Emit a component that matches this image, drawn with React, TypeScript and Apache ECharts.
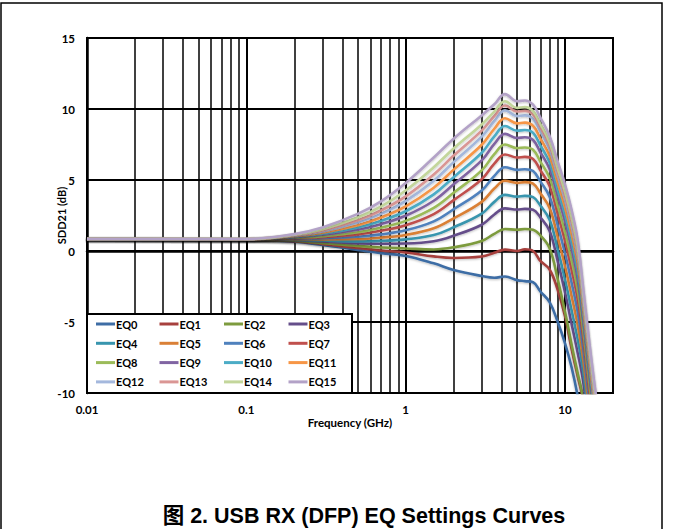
import React, { useEffect, useRef } from "react";
import * as echarts from "echarts";

// Frequency points (GHz)
const FREQ = [0.01, 0.1, 0.2, 0.3, 0.5, 0.7, 1, 1.5, 2, 3, 3.6, 4.2, 5.0, 5.6, 6.3, 7, 8, 9, 10, 11, 12, 13, 14, 15, 16];

const SERIES_NAMES = ["EQ0", "EQ1", "EQ2", "EQ3", "EQ4", "EQ5", "EQ6", "EQ7", "EQ8", "EQ9", "EQ10", "EQ11", "EQ12", "EQ13", "EQ14", "EQ15"];

// SDD21 (dB) per EQ setting
const EQ0 = [0.85, 0.80, 0.65, 0.42, 0.08, -0.15, -0.35, -0.87, -1.34, -1.76, -1.88, -1.80, -2.05, -2.12, -2.20, -2.85, -3.6, -5.0, -6.5, -8.2, -10.2, -12.5, -15, -17, -19];
const EQ1 = [0.85, 0.80, 0.69, 0.50, 0.21, 0.04, -0.10, -0.38, -0.49, -0.39, -0.13, 0.10, 0.00, 0.12, 0.00, -0.70, -1.30, -2.75, -4.60, -6.90, -8.80, -10.5, -13, -15.5, -18];
const EQ2 = [0.85, 0.80, 0.72, 0.57, 0.36, 0.25, 0.18, 0.11, 0.26, 0.71, 1.21, 1.55, 1.50, 1.55, 1.50, 1.10, 0.20, -2.00, -4.30, -6.60, -8.60, -10.4, -13.5, -16.5, -19];
const EQ3 = [0.85, 0.80, 0.77, 0.67, 0.54, 0.51, 0.53, 0.69, 1.08, 1.85, 2.57, 3.00, 2.92, 2.97, 2.90, 2.37, 1.41, -0.73, -2.92, -5.15, -7.16, -9.21, -12.32, -15.29, -17.78];
const EQ4 = [0.85, 0.81, 0.80, 0.74, 0.68, 0.71, 0.82, 1.12, 1.67, 2.63, 3.46, 3.95, 3.83, 3.88, 3.79, 3.20, 2.20, 0.10, -2.02, -4.20, -6.22, -8.43, -11.55, -14.50, -16.98];
const EQ5 = [0.85, 0.81, 0.83, 0.82, 0.84, 0.94, 1.13, 1.60, 2.30, 3.46, 4.40, 4.95, 4.80, 4.85, 4.74, 4.07, 3.03, 0.97, -1.08, -3.20, -5.23, -7.61, -10.74, -13.67, -16.14];
const EQ6 = [0.85, 0.81, 0.87, 0.90, 1.00, 1.17, 1.46, 2.09, 2.94, 4.26, 5.29, 5.90, 5.71, 5.76, 5.63, 4.90, 3.82, 1.80, -0.18, -2.25, -4.29, -6.83, -9.97, -12.88, -15.34];
const EQ7 = [0.85, 0.82, 0.91, 0.98, 1.17, 1.42, 1.81, 2.60, 3.58, 5.05, 6.15, 6.80, 6.58, 6.63, 6.48, 5.69, 4.57, 2.59, 0.68, -1.35, -3.40, -6.09, -9.24, -12.13, -14.58];
const EQ8 = [0.85, 0.82, 0.94, 1.05, 1.32, 1.64, 2.12, 3.04, 4.10, 5.68, 6.82, 7.50, 7.24, 7.29, 7.13, 6.30, 5.15, 3.20, 1.33, -0.65, -2.72, -5.52, -8.68, -11.55, -13.99];
const EQ9 = [0.85, 0.82, 0.97, 1.14, 1.50, 1.89, 2.48, 3.54, 4.70, 6.38, 7.54, 8.25, 7.96, 8.01, 7.82, 6.95, 5.77, 3.85, 2.05, 0.10, -1.97, -4.90, -8.07, -10.93, -13.36];
const EQ10 = [0.85, 0.83, 1.01, 1.21, 1.66, 2.12, 2.80, 3.99, 5.20, 6.92, 8.07, 8.80, 8.47, 8.52, 8.32, 7.43, 6.23, 4.33, 2.57, 0.65, -1.43, -4.45, -7.62, -10.47, -12.90];
const EQ11 = [0.85, 0.83, 1.04, 1.29, 1.82, 2.36, 3.15, 4.46, 5.73, 7.48, 8.61, 9.35, 8.99, 9.04, 8.81, 7.91, 6.69, 4.81, 3.09, 1.20, -0.88, -4.00, -7.18, -10.01, -12.43];
const EQ12 = [0.85, 0.84, 1.08, 1.37, 2.00, 2.61, 3.51, 4.94, 6.26, 8.05, 9.14, 9.90, 9.50, 9.55, 9.31, 8.40, 7.14, 5.30, 3.61, 1.75, -0.34, -3.54, -6.73, -9.56, -11.97];
const EQ13 = [0.85, 0.84, 1.11, 1.45, 2.16, 2.85, 3.85, 5.39, 6.72, 8.48, 9.50, 10.25, 9.82, 9.87, 9.61, 8.70, 7.44, 5.60, 3.94, 2.10, 0.01, -3.26, -6.45, -9.26, -11.67];
const EQ14 = [0.85, 0.84, 1.14, 1.54, 2.36, 3.13, 4.26, 5.90, 7.22, 8.91, 9.82, 10.55, 10.08, 10.13, 9.85, 8.96, 7.68, 5.86, 4.22, 2.40, 0.30, -3.01, -6.21, -9.02, -11.42];
const EQ15 = [0.85, 0.85, 1.19, 1.65, 2.61, 3.50, 4.79, 6.58, 7.91, 9.55, 10.33, 11.05, 10.55, 10.60, 10.30, 9.40, 8.10, 6.30, 4.70, 2.90, 0.80, -2.60, -5.80, -8.60, -11.0];

const VALUES = [EQ0, EQ1, EQ2, EQ3, EQ4, EQ5, EQ6, EQ7, EQ8, EQ9, EQ10, EQ11, EQ12, EQ13, EQ14, EQ15];

const COLORS = [
  "#3E6DA5", "#A7403D", "#7D9B3E", "#654E8A", "#3895AE", "#DA8036",
  "#4F81BD", "#C0504D", "#9BBB59", "#8064A2", "#4BACC6", "#F79646",
  "#A4B8DD", "#DA9694", "#C3D69B", "#B3A2C7",
];

// Minor vertical grid lines (2..9 within each decade)
const X_MINOR = [0.02, 0.03, 0.04, 0.05, 0.06, 0.07, 0.08, 0.09, 0.2, 0.3, 0.4, 0.5, 0.6, 0.7, 0.8, 0.9, 2, 3, 4, 5, 6, 7, 8, 9];

const X_MIN = 0.01;
const X_MAX = 20;
const Y_MIN = -10;
const Y_MAX = 15;
const Y_STEP = 5;

const TITLE = "图 2. USB RX (DFP) EQ Settings Curves";
const X_NAME = "Frequency (GHz)";
const Y_NAME = "SDD21 (dB)";

const LEGEND_LEFT = [96, 159.5, 224, 288.5];

export default function App() {
  const ref = useRef<HTMLDivElement>(null);
  useEffect(() => {
    document.body.style.margin = "0";
    const chart = echarts.init(ref.current as HTMLDivElement, null, { renderer: "svg" });
    const font = "Lato, 'Open Sans', sans-serif";

    const series: any[] = SERIES_NAMES.map((name, i) => ({
      name,
      type: "line",
      data: FREQ.map((f, j) => [f, VALUES[i][j]]),
      showSymbol: false,
      symbol: "none",
      smooth: 0.4,
      clip: true,
      color: COLORS[i],
      lineStyle: { width: 2.6, color: COLORS[i], shadowBlur: 2, shadowColor: "rgba(0,0,0,0.25)", shadowOffsetY: 1 },
      z: 3,
    }));

    series.unshift({
      name: "minorGrid",
      type: "line",
      data: [],
      silent: true,
      z: 1,
      markLine: {
        silent: true,
        z: 1,
        symbol: ["none", "none"],
        label: { show: false },
        lineStyle: { color: "#000", width: 1.5, type: "solid" },
        data: X_MINOR.map((v) => ({ xAxis: v })),
      },
    });

    const legends = LEGEND_LEFT.map((left, c) => ({
      orient: "vertical",
      left,
      top: 317,
      padding: 0,
      itemGap: 5.3,
      itemWidth: 19,
      itemHeight: 3,
      icon: "rect",
      z: 12,
      data: [0, 1, 2, 3].map((r) => SERIES_NAMES[c + r * 4]),
      textStyle: { fontFamily: font, fontWeight: "bold", fontSize: 11, color: "#000", lineHeight: 14, padding: [0, 0, 0, -4] },
    }));

    chart.setOption({
      animation: false,
      backgroundColor: "#fff",
      grid: { left: 87, top: 38, width: 526, height: 355, show: true, borderColor: "#000", borderWidth: 2, backgroundColor: "transparent" },
      xAxis: {
        type: "log",
        logBase: 10,
        min: X_MIN,
        max: X_MAX,
        name: X_NAME,
        nameLocation: "middle",
        nameGap: 23,
        nameMoveOverlap: false,
        nameTextStyle: { fontFamily: font, fontWeight: "bold", fontSize: 11.5, color: "#000" },
        axisLine: { show: true, lineStyle: { color: "#000", width: 2.5 } },
        axisTick: { show: false },
        axisLabel: {
          margin: 10,
          fontFamily: font,
          fontWeight: "bold",
          fontSize: 11.5,
          color: "#000",
          formatter: (v: number) => {
            const l = Math.log10(v);
            const r = Math.round(l);
            if (Math.abs(l - r) > 1e-6) return "";
            return String(Math.pow(10, r));
          },
        },
        splitLine: { show: true, lineStyle: { color: "#000", width: 2 } },
      },
      yAxis: {
        type: "value",
        min: Y_MIN,
        max: Y_MAX,
        interval: Y_STEP,
        name: Y_NAME,
        nameLocation: "middle",
        nameGap: 20,
        nameMoveOverlap: false,
        nameTextStyle: { fontFamily: font, fontWeight: "bold", fontSize: 11, color: "#000" },
        axisLine: { show: true, lineStyle: { color: "#000", width: 2.5 } },
        axisTick: { show: false },
        axisLabel: { margin: 12, fontFamily: font, fontWeight: "bold", fontSize: 11.5, color: "#000" },
        splitLine: { show: true, lineStyle: { color: "#000", width: 2 } },
      },
      legend: legends,
      graphic: [
        {
          type: "rect",
          z: 10,
          silent: true,
          shape: { x: 87, y: 314, width: 265, height: 79 },
          style: { fill: "#fff", stroke: "#000", lineWidth: 2 },
        },
        {
          type: "rect",
          z: 20,
          silent: true,
          shape: { x: 1, y: 3, width: 661, height: 600 },
          style: { fill: "none", stroke: "#000", lineWidth: 1.5 },
        },
        {
          type: "text",
          z: 20,
          style: {
            text: TITLE,
            x: 364,
            y: 516,
            textAlign: "center",
            textVerticalAlign: "middle",
            font: "bold 21.5px 'Liberation Sans', Arial, 'Noto Sans CJK SC', sans-serif",
            fill: "#000",
          },
        },
      ],
      series,
    });
    return () => chart.dispose();
  }, []);
  return <div ref={ref} style={{ width: 673, height: 529 }} />;
}
